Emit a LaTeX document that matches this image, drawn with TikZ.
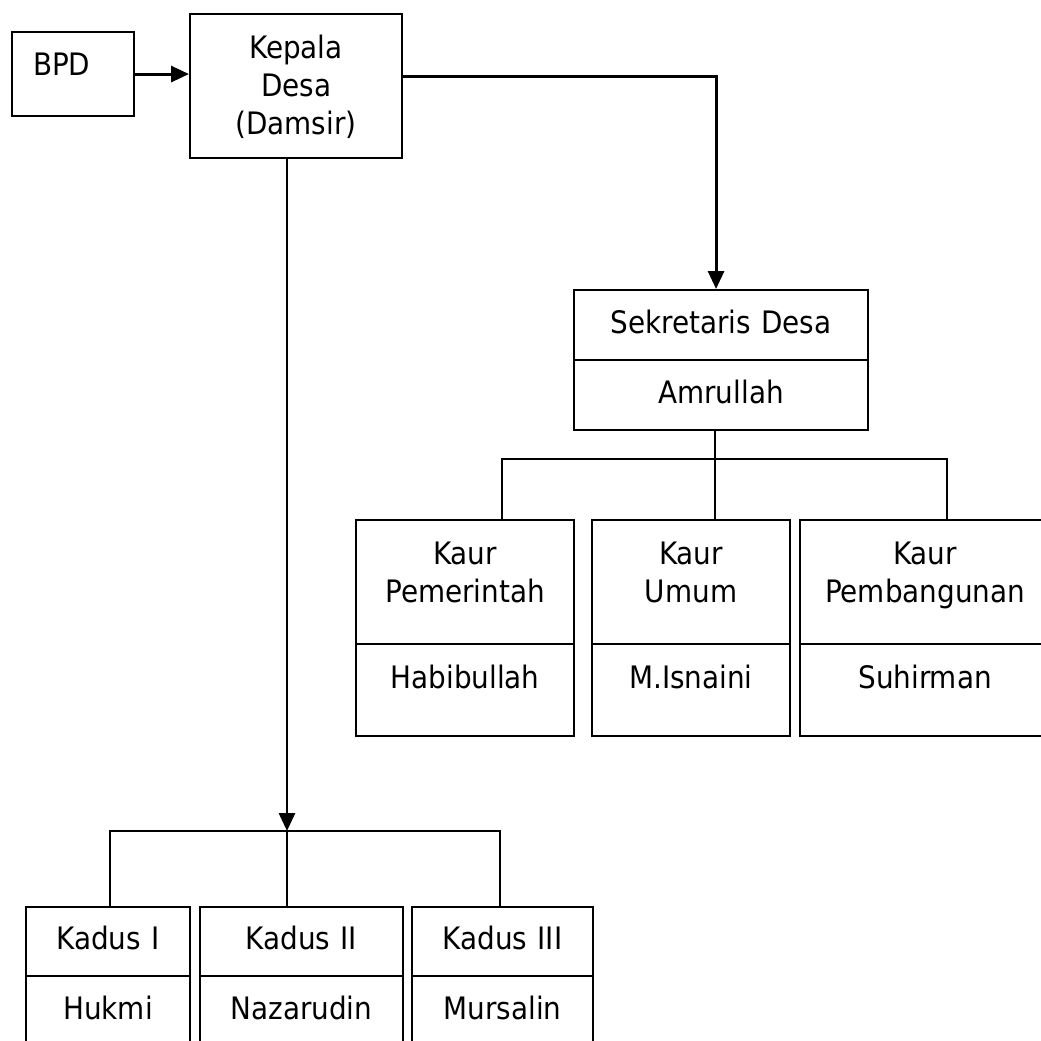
\documentclass[tikz,border=0pt]{standalone}
\usepackage{fontspec}
\setmainfont{DejaVu Sans Condensed}
\usetikzlibrary{arrows.meta}

\begin{document}
\begin{tikzpicture}[x=0.1mm,y=-0.1mm,
		font=\fontsize{8.8}{10.9}\selectfont,
		part/.style={draw,line width=0.6pt,inner sep=0pt,align=center,anchor=north west},
		conn/.style={line width=0.6pt},
		arr/.style={line width=0.85pt,-{Triangle[length=1.8mm,width=1.6mm]}}]
			\useasboundingbox(0,0)rectangle(1041,1041);
			\node[part,align=left,text width=12.2mm,text height=4.3mm,text depth=4.1mm](bpd)at(11,31){\hspace*{2.1mm}BPD};
			\node[part,text width=21.2mm,text height=4.4mm,text depth=10mm](kades)at(189,13){Kepala\\Desa\\(Damsir)};
			\node[part,text width=29.4mm,text height=4.3mm,text depth=2.7mm](sekdes)at(573,289){Sekretaris Desa};
			\node[part,text width=29.4mm,text height=4.3mm,text depth=2.7mm](amrullah)at(573,359){Amrullah};
			\node[part,text width=21.8mm,text height=4.4mm,text depth=8mm](kaur1)at(355,519){Kaur\\Pemerintah};
			\node[part,text width=21.8mm,text height=4.4mm,text depth=4.8mm](habibullah)at(355,643){Habibullah};
			\node[part,text width=19.8mm,text height=4.4mm,text depth=8mm](kaur2)at(591,519){Kaur\\Umum};
			\node[part,text width=19.8mm,text height=4.4mm,text depth=4.8mm](isnaini)at(591,643){M.Isnaini};
			\node[part,text width=25mm,text height=4.4mm,text depth=8mm](kaur3)at(799,519){Kaur\\Pembangunan};
			\node[part,text width=25mm,text height=4.4mm,text depth=4.8mm](suhirman)at(799,643){Suhirman};
			\node[part,text width=16.4mm,text height=4.2mm,text depth=2.7mm](kadus1)at(25,906){Kadus I};
			\node[part,text width=16.4mm,text height=4.3mm,text depth=8mm](hukmi)at(25,975){Hukmi};
			\node[part,text width=20.3mm,text height=4.2mm,text depth=2.7mm](kadus2)at(199,906){Kadus II};
			\node[part,text width=20.3mm,text height=4.3mm,text depth=8mm](nazarudin)at(199,975){Nazarudin};
			\node[part,text width=18.1mm,text height=4.2mm,text depth=2.7mm](kadus3)at(411,906){Kadus III};
			\node[part,text width=18.1mm,text height=4.3mm,text depth=8mm](mursalin)at(411,975){Mursalin};
			\coordinate(kbar)at(287,831);
			\coordinate(sbar)at(715,459);
			\draw[arr](bpd.east)--(bpd.east-|kades.west);
			\draw[arr]([yshift=1mm]kades.east)-|([xshift=-0.5mm]sekdes.north);
			\draw[arr](kbar|-kades.south)--(kbar);
			\draw[conn]([xshift=0.2mm]kadus1.north)|-(kbar)-|([xshift=-0.25mm]kadus3.north);
			\draw[conn](kbar)--(kbar|-kadus2.north);
			\draw[conn](sbar|-amrullah.south)--(sbar);
			\draw[conn]([xshift=3.7mm]kaur1.north)|-(sbar)-|([xshift=2.2mm]kaur3.north);
			\draw[conn](sbar)--(sbar|-kaur2.north);
			\end{tikzpicture}
\end{document}
